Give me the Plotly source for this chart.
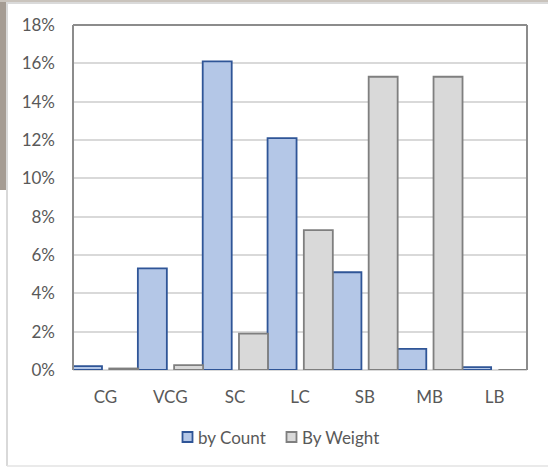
import plotly.graph_objects as go

# Size-class shares, as fractions of the total
categories = ["CG", "VCG", "SC", "LC", "SB", "MB", "LB"]
by_count = [0.002, 0.053, 0.161, 0.121, 0.051, 0.011, 0.0015]
by_weight = [0.0008, 0.0025, 0.019, 0.073, 0.153, 0.153, 0.0]
y_ticks = [0, 0.02, 0.04, 0.06, 0.08, 0.10, 0.12, 0.14, 0.16, 0.18]

W, H = 548, 468
ML, MR, MT, MB = 73, 21, 25, 98
PW, PH = W - ML - MR, H - MT - MB

BAR_W = 0.447       # bar width as a share of one category slot
BAR_STEP = 0.559    # start of the second bar inside the slot

series = [
    dict(name="by Count", y=by_count, fill="#B4C7E7", edge="#2F5597",
         offset=-0.5),
    dict(name="By Weight", y=by_weight, fill="#D9D9D9", edge="#7F7F7F",
         offset=-0.5 + BAR_STEP),
]

fig = go.Figure()
for s in series:
    fig.add_trace(go.Bar(
        name=s["name"], x=categories, y=s["y"],
        width=BAR_W, offset=s["offset"], showlegend=False,
        marker=dict(color=s["fill"], line=dict(color=s["edge"], width=1.8)),
    ))


def px_x(p):
    return (p - ML) / PW


def px_y(p):
    return 1 - (p - MT) / PH


shapes = [
    # frame on three sides of the plot area
    dict(type="line", xref="paper", yref="paper", x0=0, x1=0, y0=0, y1=1,
         line=dict(color="#8C8C8C", width=2)),
    dict(type="line", xref="paper", yref="paper", x0=0, x1=1, y0=1, y1=1,
         line=dict(color="#8C8C8C", width=2)),
    dict(type="line", xref="paper", yref="paper", x0=1, x1=1, y0=0, y1=1,
         line=dict(color="#8C8C8C", width=2)),
    # backdrop edges around the chart panel
    dict(type="rect", xref="paper", yref="paper", x0=px_x(0), x1=px_x(6),
         y0=px_y(190), y1=px_y(0), fillcolor="#A59C93", line=dict(width=0),
         layer="below"),
    dict(type="rect", xref="paper", yref="paper", x0=px_x(0), x1=px_x(W),
         y0=px_y(2), y1=px_y(0), fillcolor="#C9C3BC", line=dict(width=0),
         layer="below"),
    dict(type="line", xref="paper", yref="paper", x0=px_x(7), x1=px_x(7),
         y0=px_y(466), y1=px_y(2), line=dict(color="#D9D9D9", width=2),
         layer="below"),
    dict(type="line", xref="paper", yref="paper", x0=px_x(7), x1=px_x(W),
         y0=px_y(466), y1=px_y(466), line=dict(color="#E3E3E3", width=1.5),
         layer="below"),
    dict(type="line", xref="paper", yref="paper", x0=px_x(7), x1=px_x(W),
         y0=px_y(3), y1=px_y(3), line=dict(color="#DADADA", width=2),
         layer="below"),
]

# Legend: small outlined swatch followed by the series name
font_family = "Lato, Open Sans, sans-serif"
legend_y = 437
legend_x = [182, 286]
annotations = []
for s, lx in zip(series, legend_x):
    shapes.append(dict(
        type="rect", xref="paper", yref="paper",
        x0=px_x(lx + 0.5), x1=px_x(lx + 10.5),
        y0=px_y(legend_y + 5), y1=px_y(legend_y - 5),
        fillcolor=s["fill"], line=dict(color=s["edge"], width=1.8),
    ))
    annotations.append(dict(
        xref="paper", yref="paper", x=px_x(lx + 14), y=px_y(legend_y),
        xanchor="left", yanchor="middle", showarrow=False, text=s["name"],
        font=dict(family=font_family, size=17, color="#595959"),
    ))

fig.update_layout(
    width=W, height=H,
    margin=dict(l=ML, r=MR, t=MT, b=MB, autoexpand=False),
    paper_bgcolor="white", plot_bgcolor="white",
    font=dict(family=font_family, color="#595959", size=17),
    barmode="group",
    showlegend=False,
    shapes=shapes,
    annotations=annotations,
)
fig.update_xaxes(
    type="category", range=[-0.5, len(categories) - 0.5],
    showline=False, showgrid=False, ticks="", ticklabelstandoff=15,
    tickfont=dict(family=font_family, size=17, color="#595959"),
)
fig.update_yaxes(
    range=[0, 0.18], tickvals=y_ticks, tickformat=".0%",
    showgrid=True, gridcolor="#D9D9D9", gridwidth=2,
    zeroline=True, zerolinecolor="#D9D9D9", zerolinewidth=2,
    showline=False, ticks="", ticklabelstandoff=17,
    tickfont=dict(family=font_family, size=17, color="#595959"),
)

fig.write_html("out.html")
